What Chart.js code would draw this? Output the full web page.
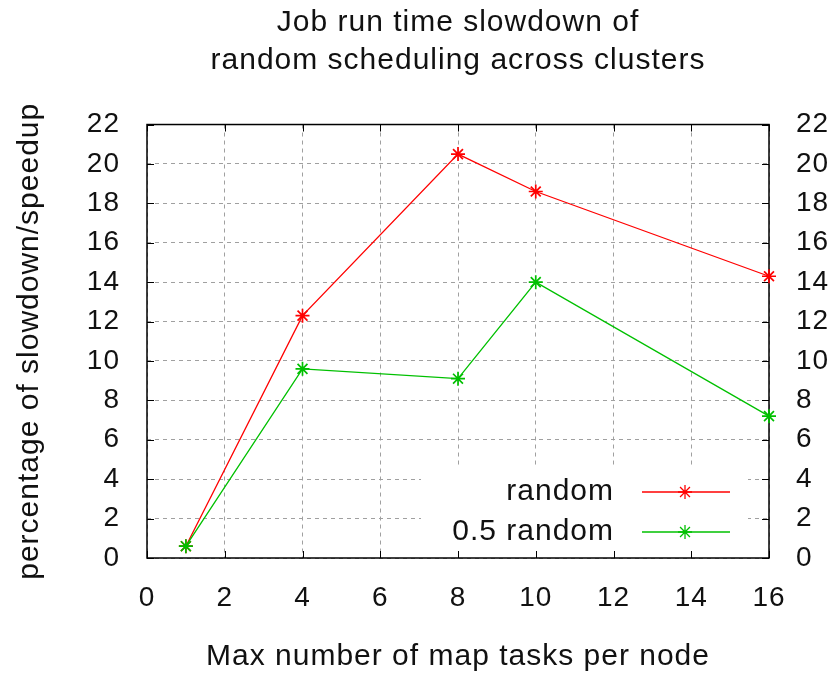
<!DOCTYPE html>
<html>
<head>
<meta charset="utf-8">
<style>
html,body{margin:0;padding:0;background:#fff;}
#wrap{width:836px;height:677px;}
</style>
<script src="https://cdn.jsdelivr.net/npm/chart.js@4.4.1/dist/chart.umd.min.js"></script>
</head>
<body>
<div id="wrap"><canvas id="c" width="836" height="677"></canvas></div>
<script>
// ---- data ----
const titleLines = ['Job run time slowdown of', 'random scheduling across clusters'];
const xLabel = 'Max number of map tasks per node';
const yLabel = 'percentage of slowdown/speedup';
const seriesNames = ['random', '0.5 random'];
const maxTasks = [1, 4, 8, 10, 16];
const randomSlowdown = [0.6, 12.3, 20.5, 18.6, 14.3];
const halfRandomSlowdown = [0.6, 9.6, 9.1, 14.0, 7.2];
const xTicks = [0, 2, 4, 6, 8, 10, 12, 14, 16];
const yTicks = [0, 2, 4, 6, 8, 10, 12, 14, 16, 18, 20, 22];

// ---- style ----
const FONT = '"Liberation Sans", Arial, Helvetica, sans-serif';
const TXT = '#111';
const RED = '#ff0000';
const GREEN = '#00c000';

const toPts = (xs, ys) => xs.map((x, i) => ({x: x, y: ys[i]}));
const setTicks = vals => scale => { scale.ticks = vals.map(v => ({value: v})); };

const spacingPlugin = {
  id: 'spacing',
  beforeDraw(chart) { chart.ctx.letterSpacing = '1px'; }
};

const framePlugin = {
  id: 'frame',
  beforeDatasetsDraw(chart) {
    const {ctx, chartArea: a, scales} = chart;
    const sx = scales.x, sy = scales.y;
    ctx.save();
    // key box (opaque, hides grid)
    ctx.fillStyle = '#fff';
    ctx.fillRect(a.right - 348, a.bottom - 90, 327, 90);
    // border
    ctx.strokeStyle = '#000';
    ctx.lineWidth = 1.5;
    ctx.setLineDash([]);
    ctx.strokeRect(a.left, a.top, a.right - a.left, a.bottom - a.top);
    // inward ticks
    ctx.lineWidth = 1;
    ctx.beginPath();
    xTicks.forEach(v => {
      const px = Math.round(sx.getPixelForValue(v)) + 0.5;
      ctx.moveTo(px, a.bottom); ctx.lineTo(px, a.bottom - 7);
      ctx.moveTo(px, a.top); ctx.lineTo(px, a.top + 7);
    });
    yTicks.forEach(v => {
      const py = Math.round(sy.getPixelForValue(v)) + 0.5;
      ctx.moveTo(a.left, py); ctx.lineTo(a.left + 7, py);
      ctx.moveTo(a.right, py); ctx.lineTo(a.right - 7, py);
    });
    ctx.stroke();
    // key entries
    ctx.font = '30px ' + FONT;
    ctx.textAlign = 'right';
    ctx.textBaseline = 'middle';
    chart.data.datasets.forEach((ds, i) => {
      const yy = a.bottom - 66 + i * 40;
      ctx.fillStyle = TXT;
      ctx.fillText(ds.label, a.right - 155, yy);
      ctx.strokeStyle = ds.borderColor;
      ctx.lineWidth = 1.3;
      ctx.beginPath();
      ctx.moveTo(a.right - 127, yy); ctx.lineTo(a.right - 39, yy);
      ctx.stroke();
      Chart.helpers.drawPoint(ctx, {pointStyle: 'star', radius: 7, borderWidth: 1.7, rotation: 0}, a.right - 84, yy);
    });
    ctx.restore();
  }
};

new Chart(document.getElementById('c'), {
  type: 'line',
  data: {
    datasets: [
      {
        label: seriesNames[0],
        data: toPts(maxTasks, randomSlowdown),
        borderColor: RED, backgroundColor: RED,
        borderWidth: 1.3, pointStyle: 'star', pointRadius: 7, pointBorderWidth: 1.7,
        pointBorderColor: RED, tension: 0, clip: false, yAxisID: 'y', order: 1
      },
      {
        label: seriesNames[1],
        data: toPts(maxTasks, halfRandomSlowdown),
        borderColor: GREEN, backgroundColor: GREEN,
        borderWidth: 1.3, pointStyle: 'star', pointRadius: 7, pointBorderWidth: 1.7,
        pointBorderColor: GREEN, tension: 0, clip: false, yAxisID: 'y', order: 0
      }
    ]
  },
  options: {
    responsive: false,
    animation: false,
    events: [],
    layout: {padding: 0},
    plugins: {
      legend: {display: false},
      tooltip: {enabled: false},
      title: {
        display: true,
        fullSize: false,
        text: titleLines,
        color: TXT,
        font: {family: FONT, size: 30, weight: 'normal', lineHeight: 1.267},
        padding: {top: 4, bottom: 44.5}
      }
    },
    scales: {
      x: {
        type: 'linear', position: 'bottom', min: 0, max: 16,
        afterBuildTicks: setTicks(xTicks),
        afterFit(s) { s.height = 119; },
        grid: {color: '#a0a0a0', lineWidth: 1, drawTicks: false},
        border: {display: false, dash: [4, 4]},
        ticks: {color: TXT, font: {family: FONT, size: 28}, padding: 23, maxRotation: 0, autoSkip: false},
        title: {display: true, text: xLabel, color: TXT, font: {family: FONT, size: 30}, padding: {top: 0, bottom: 2}}
      },
      y: {
        type: 'linear', position: 'left', min: 0, max: 22,
        afterBuildTicks: setTicks(yTicks),
        afterFit(s) { s.width = 147; },
        grid: {color: '#a0a0a0', lineWidth: 1, drawTicks: false},
        border: {display: false, dash: [4, 4]},
        ticks: {color: TXT, font: {family: FONT, size: 28}, padding: 27, autoSkip: false},
        title: {display: true, text: yLabel, color: TXT, font: {family: FONT, size: 30}, padding: {top: 12, bottom: 0}}
      },
      y2: {
        type: 'linear', position: 'right', min: 0, max: 22,
        afterBuildTicks: setTicks(yTicks),
        afterFit(s) { s.width = 67; },
        grid: {display: false, drawTicks: false},
        border: {display: false},
        ticks: {color: TXT, font: {family: FONT, size: 28}, padding: 27, autoSkip: false}
      }
    }
  },
  plugins: [spacingPlugin, framePlugin]
});
</script>
</body>
</html>
